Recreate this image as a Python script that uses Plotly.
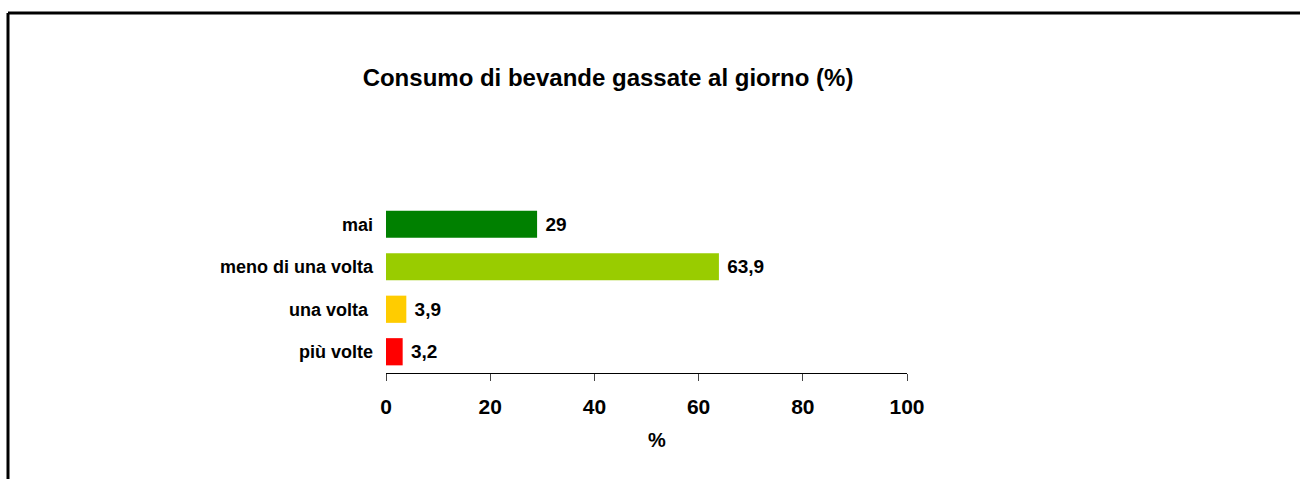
import plotly.graph_objects as go

categories = ["mai", "meno di una volta", "una volta ", "più volte"]
values = [29, 63.9, 3.9, 3.2]
value_labels = ["29", "63,9", "3,9", "3,2"]
bar_colors = ["#008000", "#99CC00", "#FFCC00", "#FF0000"]
x_ticks = [0, 20, 40, 60, 80, 100]
x_title = "%"

W, H = 1300, 479
ml, mr, mt, mb = 386, 393, 203, 106
pw, ph = W - ml - mr, H - mt - mb

def px_to_paper_x(px):
    return (px - ml) / pw

def px_to_paper_y(py):
    return (H - mb - py) / ph

FONT = "Liberation Sans, Arial, sans-serif"

fig = go.Figure(go.Bar(
    x=values,
    y=categories,
    orientation="h",
    marker=dict(color=bar_colors, line=dict(width=0)),
    text=[" " + t for t in value_labels],
    textposition="outside",
    textfont=dict(family=FONT, size=19, color="black", weight="bold"),
    cliponaxis=False,
    width=0.64,
    hoverinfo="skip",
))

fig.update_layout(
    width=W, height=H,
    margin=dict(l=ml, r=mr, t=mt, b=mb),
    paper_bgcolor="white", plot_bgcolor="white",
    showlegend=False,
    title=dict(
        text="Consumo di bevande gassate al giorno (%)",
        font=dict(family=FONT, size=24, color="black", weight="bold"),
        x=608 / W, xanchor="center", xref="container",
        y=1 - 78 / H, yanchor="middle", yref="container",
    ),
    xaxis=dict(
        range=[0, 100], tickvals=x_ticks, ticktext=[str(t) for t in x_ticks],
        showgrid=False, zeroline=False,
        showline=True, linecolor="black", linewidth=1,
        ticks="outside", ticklen=7, tickcolor="#444", tickwidth=1,
        ticklabelstandoff=8,
        tickfont=dict(family=FONT, size=21, color="black", weight="bold"),
        fixedrange=True,
    ),
    yaxis=dict(
        autorange="reversed", showgrid=False, zeroline=False, showline=False,
        ticks="", ticklabelstandoff=12,
        tickfont=dict(family=FONT, size=18, color="black", weight="bold"),
        fixedrange=True,
    ),
    annotations=[
        dict(text=x_title, xref="paper", yref="paper",
             x=px_to_paper_x(657), y=px_to_paper_y(440),
             xanchor="center", yanchor="middle", showarrow=False,
             font=dict(family=FONT, size=20, color="black", weight="bold")),
    ],
    shapes=[
        dict(type="line", xref="paper", yref="paper",
             x0=px_to_paper_x(8), x1=px_to_paper_x(1302),
             y0=px_to_paper_y(13), y1=px_to_paper_y(13),
             line=dict(color="black", width=3)),
        dict(type="line", xref="paper", yref="paper",
             x0=px_to_paper_x(8), x1=px_to_paper_x(8),
             y0=px_to_paper_y(13), y1=px_to_paper_y(481),
             line=dict(color="black", width=3)),
    ],
)

fig.write_html(
    "out.html",
    config={"displayModeBar": False},
    post_script="document.body.style.margin='0';document.body.style.overflow='hidden';",
)
